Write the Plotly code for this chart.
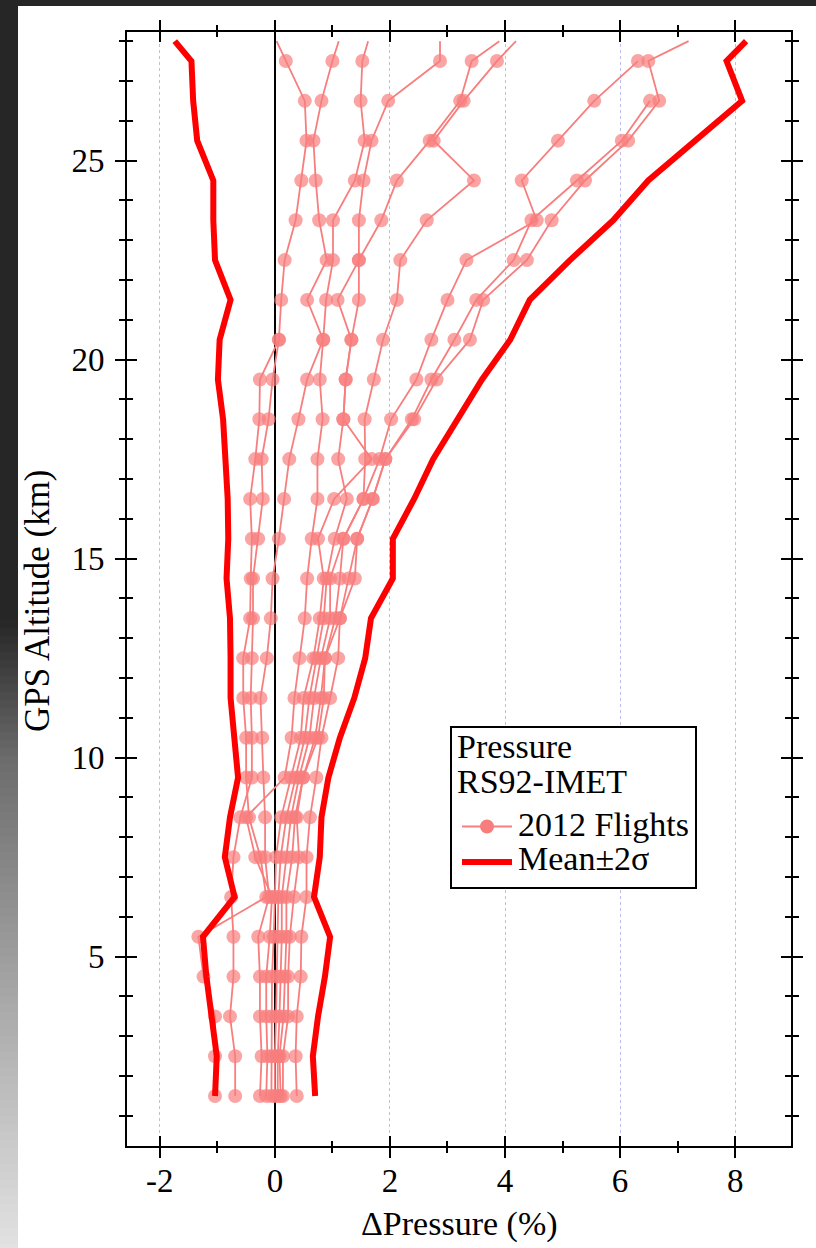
import plotly.graph_objects as go

# ---------------- data ----------------
ALT = [1.5, 2.5, 3.5, 4.5, 5.5, 6.5, 7.5, 8.5, 9.5, 10.5, 11.5, 12.5, 13.5, 14.5,
       15.5, 16.5, 17.5, 18.5, 19.5, 20.5, 21.5, 22.5, 23.5, 24.5, 25.5, 26.5, 27.5, 28.0]

FLIGHT_A = [0.38, 0.36, 0.38, 0.45, 0.46, 0.55, 0.55, 0.61, 0.72, 0.81, 0.96, 1.10, 1.13, 1.39,
            1.43, 1.70, 1.92, 2.42, 2.81, 3.39, 3.62, 4.38, 4.81, 5.39, 6.14, 6.68, 6.49, 7.19]
FLIGHT_B = [0.14, 0.14, 0.23, 0.23, 0.26, 0.33, 0.42, 0.38, 0.49, 0.75, 0.85, 0.87, 1.13, 1.28,
            1.43, 1.70, 1.92, 2.38, 2.72, 3.12, 3.50, 4.15, 4.46, 5.25, 6.03, 6.52, None, None]
FLIGHT_C = [0.10, 0.08, 0.15, 0.17, 0.20, 0.20, 0.30, 0.35, 0.49, 0.70, 0.80, 0.87, 1.05, 1.13,
            1.19, 1.54, 1.82, 2.02, 2.46, 2.72, 3.00, 3.33, 4.55, 4.29, 4.92, 5.55, 6.31, None]
FLIGHT_D = [0.05, 0.05, 0.08, 0.10, 0.12, 0.12, 0.20, 0.28, 0.42, 0.60, 0.68, 0.80, 0.96, 0.96,
            1.19, 1.54, 1.57, 1.56, 1.72, 1.88, 2.12, 2.18, 2.64, 3.46, 2.76, 3.28, 3.86, 4.19]
FLIGHT_E = [0.00, 0.00, 0.02, 0.03, 0.05, 0.06, 0.10, 0.20, 0.36, 0.52, 0.60, 0.72, 0.85, 0.90,
            1.04, 1.25, 1.10, 1.19, 1.23, 1.33, 1.46, 1.46, 1.85, 2.12, 2.69, 3.22, 3.42, 3.90]
FLIGHT_F = [-0.06, -0.06, -0.06, -0.05, -0.02, 0.00, 0.02, 0.11, 0.28, 0.45, 0.50, 0.67, 0.78, 0.85,
            0.75, 1.03, 1.68, 1.19, 1.23, 1.33, 1.09, 1.46, 1.46, 1.54, 1.68, 1.97, 2.87, 2.87]
FLIGHT_G = [-0.15, -0.13, -0.15, -0.15, -0.09, -0.05, -0.34, -0.50, 0.17, 0.29, 0.34, 0.43, 0.52, 0.56,
            0.64, 0.74, 0.74, 0.83, 0.78, 0.84, 0.89, 1.01, 1.01, 1.39, 1.56, 1.49, 1.52, 1.62]
FLIGHT_H = [-0.26, -0.23, -0.26, -0.26, -0.29, -0.10, -0.17, -0.17, -0.20, -0.22, -0.25, -0.14, -0.07, -0.04,
            0.07, 0.16, 0.25, 0.41, 0.56, 0.84, 0.56, 0.90, 0.77, 0.71, 0.67, 0.81, 1.00, 1.11]
FLIGHT_I = [-0.69, -0.69, -0.78, -0.72, -0.72, -0.76, -0.72, -0.60, -0.40, -0.40, -0.42, -0.40, -0.38, -0.38,
            -0.29, -0.21, -0.23, -0.11, -0.04, 0.07, 0.11, 0.17, 0.36, 0.46, 0.55, 0.52, 0.19, 0.03]
FLIGHT_J = [-1.04, -1.04, -1.04, -1.24, -1.33, -0.15, -0.25, -0.45, -0.50, -0.50, -0.55, -0.55, -0.43, -0.42,
            -0.40, -0.43, -0.34, -0.27, -0.26, 0.07, None, None, None, None, None, None, None, None]

FLIGHTS = [FLIGHT_A, FLIGHT_B, FLIGHT_C, FLIGHT_D, FLIGHT_E,
           FLIGHT_F, FLIGHT_G, FLIGHT_H, FLIGHT_I, FLIGHT_J]

MEAN_MINUS_2SIG = [-1.04, -1.01, -1.10, -1.19, -1.25, -0.70, -0.87, -0.78, -0.64, -0.70, -0.77, -0.77, -0.78, -0.84,
                   -0.81, -0.82, -0.85, -0.90, -0.99, -0.96, -0.77, -1.04, -1.07, -1.07, -1.35, -1.42, -1.45, -1.74]
MEAN_PLUS_2SIG = [0.70, 0.66, 0.75, 0.87, 0.96, 0.68, 0.78, 0.81, 0.93, 1.13, 1.38, 1.57, 1.67, 2.05,
                  2.05, 2.42, 2.75, 3.17, 3.60, 4.09, 4.43, 5.13, 5.88, 6.49, 7.30, 8.12, 7.85, 8.19]

X_TICKS = [-2, 0, 2, 4, 6, 8]
X_TICK_TEXT = ["-2", "0", "2", "4", "6", "8"]
Y_TICKS = [5, 10, 15, 20, 25]

X_TITLE = "ΔPressure (%)"
Y_TITLE = "GPS Altitude (km)"
LEGEND_TITLE = ["Pressure", "RS92-IMET"]
LEGEND_FLIGHTS = "2012 Flights"
LEGEND_BAND = "Mean±2σ"

# ---------------- style ----------------
FONT = "Liberation Serif"
FS = 33
PINK = "#f87e7e"
RED = "#ff0000"
W, H = 816, 1248
L, R, T, B = 127, 25, 32, 102
XR = [-2.57, 8.97]
YR = [0.244, 28.23]

pw, ph = W - L - R, H - T - B
def px_x(px):
    return (px - L) / pw
def px_y(py):
    return (H - B - py) / ph

fig = go.Figure()

msize = [14] * (len(ALT) - 1) + [0]
for i, fl in enumerate(FLIGHTS):
    fig.add_trace(go.Scatter(
        x=fl, y=ALT, mode="lines+markers",
        line=dict(color=PINK, width=1.8),
        marker=dict(color=PINK, size=msize, line=dict(width=0)),
        name=LEGEND_FLIGHTS, showlegend=False, connectgaps=False,
    ))

for i, band in enumerate([MEAN_MINUS_2SIG, MEAN_PLUS_2SIG]):
    fig.add_trace(go.Scatter(
        x=band, y=ALT, mode="lines",
        line=dict(color=RED, width=6),
        name=LEGEND_BAND, showlegend=False,
    ))

# invisible trace for the overlay axes (inside half of crossing ticks)
fig.add_trace(go.Scatter(x=[XR[0]], y=[YR[0]], xaxis="x2", yaxis="y2",
                         mode="markers", marker=dict(opacity=0), showlegend=False,
                         hoverinfo="skip"))

axis_common = dict(showline=True, linecolor="black", linewidth=2,
                   tickcolor="black", tickwidth=2, automargin=False,
                   tickfont=dict(family=FONT, size=FS, color="black"))

fig.update_layout(
    width=W, height=H,
    margin=dict(l=L, r=R, t=T, b=B, autoexpand=False),
    paper_bgcolor="white", plot_bgcolor="white",
    font=dict(family=FONT, size=FS, color="black"),
    showlegend=False,
    xaxis=dict(
        range=XR, tickmode="array", tickvals=X_TICKS, ticktext=X_TICK_TEXT,
        ticks="outside", ticklen=10, mirror="ticks",
        minor=dict(dtick=1, tick0=0, ticks="outside", ticklen=5, tickwidth=2,
                   tickcolor="black", showgrid=False),
        showgrid=True, gridcolor="#bcbcee", griddash="dot", gridwidth=1,
        zeroline=True, zerolinecolor="black", zerolinewidth=1.5,
        ticklabelstandoff=-6,
        **axis_common,
    ),
    yaxis=dict(
        range=YR, tickmode="array", tickvals=Y_TICKS,
        ticks="outside", ticklen=10, mirror="ticks",
        minor=dict(dtick=1, tick0=0, ticks="outside", ticklen=6, tickwidth=2,
                   tickcolor="black", showgrid=False),
        showgrid=False, zeroline=False,
        ticklabelstandoff=4,
        **axis_common,
    ),
    xaxis2=dict(overlaying="x", range=XR, tickmode="array", tickvals=X_TICKS,
                ticks="inside", ticklen=10, tickwidth=2, tickcolor="black", mirror="ticks",
                minor=dict(dtick=1, tick0=0, ticks="inside", ticklen=5, tickwidth=2,
                           tickcolor="black", showgrid=False),
                showline=False, showticklabels=False, showgrid=False, zeroline=False,
                automargin=False),
    yaxis2=dict(overlaying="y", range=YR, tickmode="array", tickvals=Y_TICKS,
                ticks="inside", ticklen=10, tickwidth=2, tickcolor="black", mirror="ticks",
                minor=dict(dtick=1, tick0=0, ticks="inside", ticklen=6, tickwidth=2,
                           tickcolor="black", showgrid=False),
                showline=False, showticklabels=False, showgrid=False, zeroline=False,
                automargin=False),
)

annotations = []
# axis titles
annotations.append(dict(text=X_TITLE, xref="paper", yref="paper",
                        x=px_x(459.5), y=px_y(1224), xanchor="center", yanchor="middle",
                        showarrow=False, font=dict(family=FONT, size=34, color="black")))
annotations.append(dict(text=Y_TITLE, xref="paper", yref="paper", textangle=-90,
                        x=px_x(37), y=px_y(601), xanchor="center", yanchor="middle",
                        showarrow=False, font=dict(family=FONT, size=35, color="black")))

# legend (drawn by hand to match the original compact box)
LFS = 34
leg_lines = [(LEGEND_TITLE[0], 455, 746.5), (LEGEND_TITLE[1], 455, 781.5),
             (LEGEND_FLIGHTS, 516, 824.5), (LEGEND_BAND, 516, 858.5)]
for txt, lx, ly in leg_lines:
    annotations.append(dict(text=txt, xref="paper", yref="paper",
                            x=px_x(lx), y=px_y(ly), xanchor="left", yanchor="middle",
                            showarrow=False, font=dict(family=FONT, size=LFS, color="black")))

shapes = []
# page frame: dark top band and left gradient band
shapes.append(dict(type="rect", xref="paper", yref="paper", layer="below",
                   x0=px_x(0), x1=px_x(W), y0=px_y(6), y1=px_y(0),
                   fillcolor="#262626", line=dict(width=0)))
stops = [(0, 38), (620, 38), (760, 108), (1000, 168), (1248, 226)]
def gray_at(py):
    for (a, ca), (b, cb) in zip(stops[:-1], stops[1:]):
        if a <= py <= b:
            t = (py - a) / (b - a) if b > a else 0
            return int(round(ca + (cb - ca) * t))
    return stops[-1][1]
shapes.append(dict(type="rect", xref="paper", yref="paper", layer="below",
                   x0=px_x(0), x1=px_x(18), y0=px_y(620), y1=px_y(0),
                   fillcolor="#262626", line=dict(width=0)))
step = 8
for py in range(620, H, step):
    g = gray_at(py + step / 2)
    shapes.append(dict(type="rect", xref="paper", yref="paper", layer="below",
                       x0=px_x(0), x1=px_x(18),
                       y0=px_y(min(py + step + 1, H)), y1=px_y(py),
                       fillcolor=f"rgb({g},{g},{g})", line=dict(width=0)))

# legend box and samples
shapes.append(dict(type="rect", xref="paper", yref="paper", layer="above",
                   x0=px_x(451), x1=px_x(696), y0=px_y(888), y1=px_y(727),
                   fillcolor="white", line=dict(color="black", width=2)))
shapes.append(dict(type="line", xref="paper", yref="paper", layer="above",
                   x0=px_x(462), x1=px_x(512), y0=px_y(826.5), y1=px_y(826.5),
                   line=dict(color=PINK, width=1.8)))
shapes.append(dict(type="circle", xref="paper", yref="paper", layer="above",
                   x0=px_x(480), x1=px_x(494), y0=px_y(833.5), y1=px_y(819.5),
                   fillcolor=PINK, line=dict(width=0)))
shapes.append(dict(type="line", xref="paper", yref="paper", layer="above",
                   x0=px_x(462), x1=px_x(512), y0=px_y(862), y1=px_y(862),
                   line=dict(color=RED, width=6)))

fig.update_layout(shapes=shapes, annotations=annotations)

fig.write_html("out.html")
